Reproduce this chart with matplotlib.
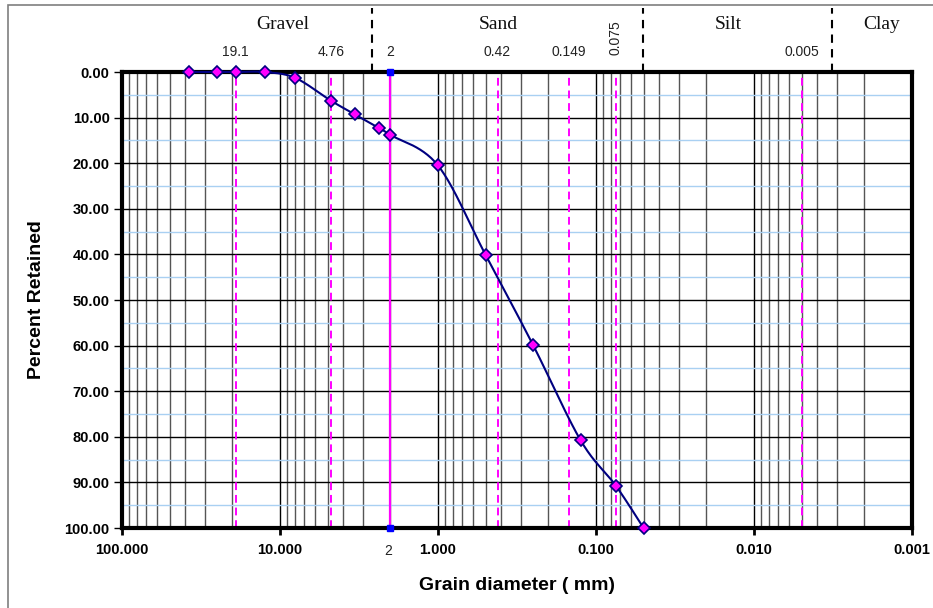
import numpy as np
import matplotlib.pyplot as plt
from matplotlib.ticker import FixedLocator, FormatStrFormatter, NullFormatter
from matplotlib.patches import Rectangle

# sieve data (grain size in mm, percent retained)
size_mm = [37.5, 25.0, 19.1, 12.5, 8.0, 4.76, 3.35, 2.36, 2.0, 1.0, 0.5, 0.25, 0.125, 0.075, 0.05]
retained = [0.0, 0.0, 0.0, 0.0, 1.3, 6.3, 9.3, 12.3, 13.8, 20.5, 40.1, 59.9, 80.8, 90.7, 100.0]

sieve_lines = [19.1, 4.76, 0.42, 0.149, 0.075, 0.005]
sieve_labels = ["19.1", "4.76", "0.42", "0.149", "0.075", "0.005"]
solid_line = 2.0
boundaries = [2.62, 0.0505, 0.00321]
soils = ["Gravel", "Sand", "Silt", "Clay"]
soil_pos = [0.204, 0.476, 0.767, 0.961]


def smooth(xs, ys, n=30):
    # Catmull-Rom through points in (log x, y) space, like Excel smoothed line
    lx = np.log10(xs)
    ys = np.asarray(ys, float)
    P = np.column_stack([lx, ys])
    P = np.vstack([P[0], P, P[-1]])
    out = []
    t = np.linspace(0, 1, n)[:, None]
    for i in range(1, len(P) - 2):
        p0, p1, p2, p3 = P[i - 1], P[i], P[i + 1], P[i + 2]
        c1 = p1 + (p2 - p0) / 6
        c2 = p2 - (p3 - p1) / 6
        seg = ((1 - t) ** 3) * p1 + 3 * ((1 - t) ** 2) * t * c1 + 3 * (1 - t) * t ** 2 * c2 + t ** 3 * p2
        out.append(seg)
    out = np.vstack(out)
    return 10 ** out[:, 0], out[:, 1]


fig = plt.figure(figsize=(9.33, 6.08), dpi=100)
ax = fig.add_axes([122 / 933, 80 / 608, 790 / 933, 456 / 608])

ax.set_xscale("log")
ax.set_xlim(100, 0.001)
ax.set_ylim(100, 0)

# grid
ax.xaxis.set_major_locator(FixedLocator([100, 10, 1, 0.1, 0.01, 0.001]))
minors = [m * 10.0 ** e for e in range(-3, 2) for m in range(2, 10)]
ax.xaxis.set_minor_locator(FixedLocator(minors))
ax.xaxis.set_major_formatter(FormatStrFormatter("%.3f"))
ax.xaxis.set_minor_formatter(NullFormatter())
ax.set_yticks(np.arange(0, 101, 10))
ax.set_yticks(np.arange(5, 100, 10), minor=True)
ax.yaxis.set_major_formatter(FormatStrFormatter("%.2f"))

ax.grid(True, which="major", axis="x", color="black", lw=1.0)
ax.grid(True, which="minor", axis="x", color="#555555", lw=1.0)
ax.grid(True, which="major", axis="y", color="black", lw=1.0)
ax.grid(True, which="minor", axis="y", color="#a9d0f2", lw=1.0)
ax.set_axisbelow(True)

for s in ax.spines.values():
    s.set_linewidth(3)
    s.set_color("black")

ax.tick_params(axis="x", which="major", direction="out", length=5, width=2,
               labelsize=10.5, pad=6)
ax.tick_params(axis="x", which="minor", length=0)
ax.tick_params(axis="y", which="major", direction="out", length=6, width=1,
               labelsize=10.5, pad=3)
ax.tick_params(axis="y", which="minor", length=0)
for lab in ax.get_xticklabels() + ax.get_yticklabels():
    lab.set_fontweight("bold")
    lab.set_family("Liberation Sans")

# sieve reference lines
for v in sieve_lines:
    ax.axvline(v, color="magenta", lw=1.4, ls=(0, (4, 2.5)), zorder=2)
ax.axvline(solid_line, color="magenta", lw=1.6, zorder=2)
ax.plot([solid_line, solid_line], [0, 100], ls="none", marker="s", ms=4,
        color="blue", clip_on=False, zorder=3)

# gradation curve
sx, sy = smooth(size_mm, retained)
ax.plot(sx, sy, color="#000080", lw=1.5, zorder=4, clip_on=False)
ax.plot(size_mm, retained, ls="none", marker="D", ms=6, mfc="magenta",
        mec="#000080", mew=1.2, zorder=5, clip_on=False)

# labels above plot
xt = ax.get_xaxis_transform()
for v, t in zip(sieve_lines, sieve_labels):
    if t == "0.075":
        ax.text(v, 1.075, t, transform=xt, rotation=90, ha="center", va="center",
                fontsize=10, family="Liberation Sans", color="#222222")
    else:
        ax.text(v, 1.044, t, transform=xt, ha="center", va="center",
                fontsize=10, family="Liberation Sans", color="#222222")
ax.text(solid_line, 1.044, "2", transform=xt, ha="center", va="center",
        fontsize=10, family="Liberation Sans", color="#222222")
ax.text(solid_line * 1.03, -0.05, "2", transform=xt, ha="center", va="center",
        fontsize=10, family="Liberation Sans", color="#222222")

for b in boundaries:
    ax.plot([b, b], [1.0, 1.14], transform=xt, color="black", lw=1.5,
            ls=(0, (4, 3)), clip_on=False)
for name, px in zip(soils, soil_pos):
    ax.text(px, 1.105, name, transform=ax.transAxes, ha="center", va="center",
            fontsize=14, family="Liberation Serif", color="#111111")

ax.set_xlabel("Grain diameter ( mm)", fontsize=14, fontweight="bold",
              family="Liberation Sans", labelpad=14)
ax.set_ylabel("Percent Retained", fontsize=14, fontweight="bold",
              family="Liberation Sans", labelpad=14)

# chart area border
fig.patches.append(Rectangle((8 / 933, -0.05), 1.1, (608 - 5) / 608 + 0.05,
                             transform=fig.transFigure, fill=False,
                             edgecolor="#7f7f7f", lw=1.2))

fig.savefig("out.png", dpi=100)
